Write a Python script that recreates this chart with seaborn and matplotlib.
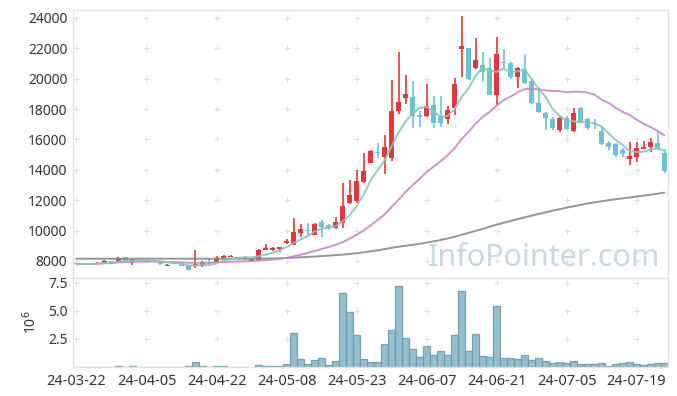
import numpy as np
import pandas as pd
import matplotlib
matplotlib.use("Agg")
import matplotlib.pyplot as plt
import seaborn as sns

# ---- data ----
opens = [7850, 7740, 7820, 7780, 7840, 8000, 7960, 8260, 7960, 8110,
         8100, 8010, 7960, 7700, 7800, 7870, 7710, 7650, 7650, 7910,
         7960, 8180, 8290, 8160, 8280, 8000, 8050, 8730, 8740, 8780,
         9170, 9060, 9830, 10060, 9730, 10570, 10350, 10190, 10520, 11840,
         11970, 13220, 14470, 15150, 14830, 14800, 17900, 18710, 18815, 17600,
         17520, 18250, 17565, 17330, 18050, 21960, 22000, 20725, 20900, 20680,
         18930, 21120, 21050, 20090, 20630, 19850, 18380, 17740, 17345, 16620,
         17390, 16580, 18100, 17345, 17065, 16560, 15750, 15680, 15300, 14710,
         14865, 15390, 15520, 15750, 15080]
highs = [7870, 7840, 7840, 7920, 8080, 8020, 8260, 8280, 8170, 8130,
         8130, 8030, 7970, 7800, 7920, 7900, 7720, 8700, 8000, 8150,
         8300, 8400, 8400, 8260, 8300, 8150, 8780, 9100, 8900, 8930,
         9450, 10810, 10410, 10480, 10520, 10700, 10435, 10900, 13150, 13330,
         13990, 15130, 15300, 15750, 16300, 19920, 21740, 20240, 19850, 17870,
         19650, 18880, 18880, 18200, 20070, 24150, 22020, 22680, 21780, 21340,
         22740, 21930, 21100, 20790, 21630, 19920, 19390, 17810, 17500, 17545,
         17550, 18090, 18160, 17400, 17330, 16840, 15900, 15790, 15420, 15850,
         15850, 15920, 16080, 16510, 15370]
lows = [7770, 7730, 7790, 7770, 7830, 7830, 7940, 7960, 7720, 8030,
        7950, 7950, 7720, 7650, 7780, 7650, 7380, 7560, 7630, 7720,
        7940, 8160, 8270, 8170, 8050, 7980, 8030, 8700, 8650, 8620,
        9150, 9050, 9600, 9665, 9680, 9560, 10040, 10100, 10190, 11750,
        11840, 13110, 14420, 14800, 13730, 14580, 17680, 18320, 16780, 16800,
        17460, 16775, 16840, 17020, 17600, 20090, 19910, 20620, 19760, 18920,
        18270, 20690, 19960, 19370, 19650, 18330, 17750, 16620, 16620, 16510,
        16620, 16500, 17065, 16640, 16670, 15640, 15300, 14865, 14865, 14320,
        14500, 15350, 15190, 15300, 13770]
closes = [7790, 7820, 7800, 7880, 7990, 7840, 8220, 7980, 8150, 8050,
          7980, 7970, 7780, 7750, 7880, 7700, 7410, 7800, 7910, 7880,
          8200, 8340, 8340, 8240, 8110, 8130, 8720, 8870, 8840, 8900,
          9290, 9900, 10120, 9960, 10435, 10220, 10230, 10550, 11620, 12345,
          13270, 13925, 15240, 15100, 15520, 17870, 18490, 18990, 17565, 17450,
          18200, 17065, 17100, 17940, 19650, 22170, 19960, 21230, 20460, 18920,
          21630, 21060, 20090, 20680, 19700, 18380, 17830, 17430, 16730, 17430,
          16670, 17720, 17100, 16730, 17020, 15680, 15480, 14980, 15040, 14910,
          15460, 15530, 15835, 15420, 13940]
volumes_m = [0.03, 0.02, 0.02, 0.03, 0.04, 0.03, 0.05, 0.04, 0.10, 0.03,
             0.03, 0.02, 0.04, 0.03, 0.03, 0.04, 0.08, 0.48, 0.05, 0.04,
             0.09, 0.05, 0.03, 0.03, 0.04, 0.04, 0.20, 0.06, 0.06, 0.06,
             0.30, 2.98, 0.74, 0.30, 0.65, 0.83, 0.15, 0.57, 6.55, 4.85,
             2.80, 0.74, 0.48, 0.48, 2.08, 3.33, 7.17, 2.62, 1.64, 0.92,
             1.90, 1.10, 1.46, 1.10, 2.80, 6.73, 1.46, 2.89, 1.00, 0.92,
             5.39, 0.83, 0.83, 0.74, 1.10, 0.65, 0.83, 0.57, 0.39, 0.48,
             0.39, 0.57, 0.30, 0.30, 0.30, 0.39, 0.12, 0.30, 0.39, 0.48,
             0.30, 0.20, 0.30, 0.39, 0.39]
ma120 = [8150, 8150, 8150, 8150, 8150, 8150, 8150, 8150, 8150, 8150,
         8150, 8150, 8150, 8150, 8150, 8150, 8150, 8150, 8150, 8150,
         8150, 8150, 8150, 8150, 8150, 8150, 8150, 8160, 8170, 8180,
         8200, 8220, 8240, 8265, 8290, 8320, 8350, 8385, 8420, 8460,
         8510, 8570, 8630, 8700, 8780, 8860, 8940, 9000, 9060, 9130,
         9210, 9290, 9380, 9480, 9590, 9720, 9850, 9980, 10110, 10250,
         10390, 10510, 10630, 10750, 10870, 10980, 11090, 11200, 11310, 11410,
         11510, 11600, 11690, 11780, 11860, 11930, 12000, 12060, 12120, 12180,
         12240, 12300, 12360, 12430, 12500]
tick_labels = ["24-03-22", "24-04-05", "24-04-22", "24-05-08", "24-05-23",
               "24-06-07", "24-06-21", "24-07-05", "24-07-19"]
price_ticks = [8000, 10000, 12000, 14000, 16000, 18000, 20000, 22000, 24000]
vol_ticks = [2.5, 5.0, 7.5]

RED = "#e8353b"
BLUE = "#6cc1d7"
MA5_C = "#84c7bd"
MA20_C = "#c987c6"
MA120_C = "#8a8a8a"
VOL_C = "#8ab7ca"
VOL_E = "#6a9cb2"
SPINE = "#e3e3e3"
TXT = "#333333"

sns.set_theme(style="white")
plt.rcParams['font.family'] = ['Noto Sans', 'DejaVu Sans']

n = len(closes)
df = pd.DataFrame({
    "idx": np.arange(n),
    "open": opens, "high": highs, "low": lows, "close": closes,
    "vol": volumes_m, "ma120": ma120,
})
df["ma5"] = df["close"].rolling(5, min_periods=1).mean()
df["ma20"] = df["close"].rolling(20, min_periods=1).mean()
up = df["close"] >= df["open"]
colors = np.where(up, RED, BLUE)

fig = plt.figure(figsize=(6.77, 3.96), dpi=100)
ax = fig.add_axes([0.1078, 0.298, 0.879, 0.6768])
axv = fig.add_axes([0.1078, 0.0732, 0.879, 0.2247])

xticks = list(range(0, n, 10))

# plus-sign grid marks
gx, gy = np.meshgrid(xticks, price_ticks)
ax.plot(gx.ravel(), gy.ravel(), ls="none", marker="+", ms=4, mew=0.8,
        color="#e0e0e0", zorder=0)
gx2, gy2 = np.meshgrid(xticks, vol_ticks)
axv.plot(gx2.ravel(), gy2.ravel(), ls="none", marker="+", ms=4, mew=0.8,
         color="#e0e0e0", zorder=0)

# candles
ax.vlines(df["idx"], df["low"], df["high"], colors=colors, lw=1.2, zorder=2)
body = (df["close"] - df["open"]).abs().clip(lower=25)
ax.bar(df["idx"], body, bottom=np.minimum(df["open"], df["close"]),
       width=0.74, color=colors, linewidth=0, zorder=3)

# moving averages
sns.lineplot(data=df, x="idx", y="ma120", ax=ax, color=MA120_C, lw=1.4,
             alpha=0.9, zorder=4)
sns.lineplot(data=df, x="idx", y="ma20", ax=ax, color=MA20_C, lw=1.4,
             alpha=0.9, zorder=4)
sns.lineplot(data=df, x="idx", y="ma5", ax=ax, color=MA5_C, lw=1.4,
             alpha=0.9, zorder=4)

# volume
sns.barplot(data=df, x="idx", y="vol", ax=axv, native_scale=True, width=1.0,
            color=VOL_C, saturation=1, edgecolor=VOL_E, linewidth=0.9,
            alpha=0.9, errorbar=None, zorder=2)

# watermark
ax.text(0.987, 0.045, "InfoPointer.com", transform=ax.transAxes,
        ha="right", va="baseline", fontsize=22, color="#c6d9e3", zorder=1)

for a in (ax, axv):
    a.set_xlim(-0.5, n - 0.5)
    for s in a.spines.values():
        s.set_color(SPINE)
        s.set_linewidth(1)
    a.set_xlabel("")
    a.set_ylabel("")
    a.tick_params(length=0, colors=TXT, labelsize=10, pad=4)

ax.set_ylim(6880, 24520)
ax.set_yticks(price_ticks)
ax.set_yticklabels([str(v) for v in price_ticks])
ax.set_xticks(xticks)
ax.tick_params(axis="x", labelbottom=False)

axv.set_ylim(0, 7.9)
axv.set_yticks(vol_ticks)
axv.set_yticklabels(["2.5", "5.0", "7.5"])
axv.set_xticks(xticks)
axv.set_xticklabels(tick_labels)
axv.tick_params(axis="x", labelsize=10.5, pad=5)
axv.set_ylabel("10$^6$", color=TXT, fontsize=10, labelpad=6)

fig.savefig("out.png", dpi=100, facecolor="white")
